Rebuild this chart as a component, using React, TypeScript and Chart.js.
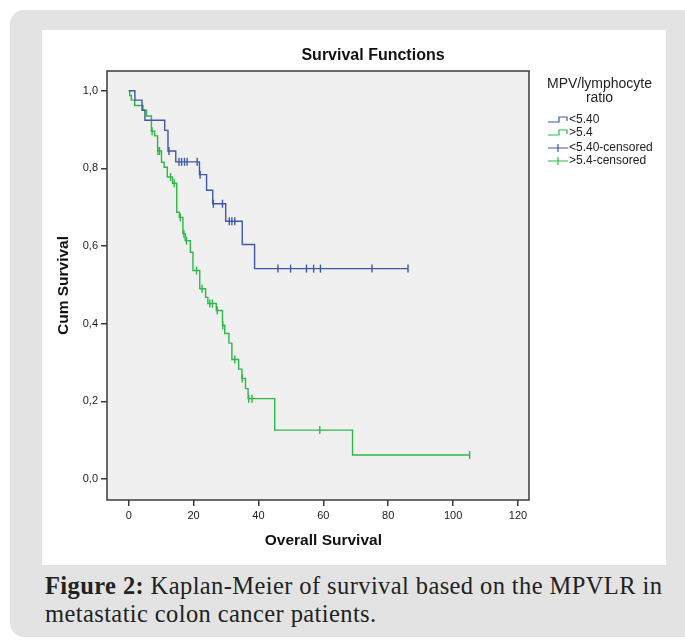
import React, { useEffect, useRef } from "react";
import { Chart, registerables } from "chart.js";

Chart.register(...registerables);

// ---- data ----
const xTickValues = [0, 20, 40, 60, 80, 100, 120];
const yTickValues = [0, 0.2, 0.4, 0.6, 0.8, 1.0];

const seriesLabels = ["<5.40", ">5.4", "<5.40-censored", ">5.4-censored"];
const legendTitleLines = ["MPV/lymphocyte", "ratio"];

// "<5.40" group: event times and survival level after each event
const lowTimes = [0, 1.9, 4.1, 5.0, 11.1, 12.1, 14.5, 21.8, 24.0, 25.9, 29.9, 35.0, 38.8];
const lowSurv = [1.0, 0.976, 0.95, 0.924, 0.898, 0.845, 0.817, 0.784, 0.744, 0.709, 0.664, 0.604, 0.542];
const lowCensored = [12.4, 15.5, 16.3, 17.2, 18.0, 21.1, 22.0, 26.1, 28.9, 31.0, 31.8, 32.7, 46.0, 49.9, 54.8, 57.0, 59.1, 75.0, 86.1];

// ">5.4" group
const highTimes = [0, 0.3, 0.8, 1.85, 4.4, 5.5, 7.0, 8.0, 8.9, 10.1, 10.9, 11.9, 13.5, 14.8, 15.6, 16.7, 17.4, 19.0, 19.8, 21.9, 23.7, 24.4, 27.0, 28.9, 29.6, 30.9, 31.8, 33.9, 34.9, 36.0, 36.8, 45.0, 69.0];
const highSurv = [1.0, 0.988, 0.976, 0.962, 0.95, 0.935, 0.896, 0.884, 0.845, 0.816, 0.803, 0.778, 0.762, 0.687, 0.674, 0.632, 0.614, 0.584, 0.537, 0.49, 0.468, 0.452, 0.434, 0.396, 0.375, 0.35, 0.308, 0.283, 0.259, 0.233, 0.207, 0.126, 0.062];
const highCensored = [7.2, 9.0, 9.5, 12.9, 14.0, 15.9, 17.0, 17.8, 20.9, 22.6, 25.0, 25.8, 27.3, 29.0, 32.7, 35.0, 37.0, 38.0, 58.9, 105.1];

const BLUE = "rgb(62,88,172)";
const GREEN = "rgb(46,184,72)";
const FONT = "'Liberation Sans', Arial, sans-serif";

function levelAt(times: number[], surv: number[], t: number) {
  let s = surv[0];
  for (let i = 0; i < times.length; i++) if (times[i] <= t) s = surv[i];
  return s;
}
function stepPoints(times: number[], surv: number[], cens: number[]) {
  const pts = times.map((t, i) => ({ x: t, y: surv[i] }));
  const end = Math.max(times[times.length - 1], ...cens);
  pts.push({ x: end, y: levelAt(times, surv, end) });
  return pts;
}
function censorPoints(times: number[], surv: number[], cens: number[]) {
  return cens.map((t) => ({ x: t, y: levelAt(times, surv, t) }));
}

const decorPlugin = {
  id: "decor",
  beforeDatasetsDraw(chart: any) {
    const { ctx, chartArea: a } = chart;
    ctx.save();
    ctx.fillStyle = "#f0f0f0";
    ctx.fillRect(a.left, a.top, a.right - a.left, a.bottom - a.top);
    ctx.restore();
  },
  afterDatasetsDraw(chart: any) {
    const { ctx, chartArea: a } = chart;
    ctx.save();
    ctx.strokeStyle = "#3a3a3a";
    ctx.lineWidth = 1.5;
    ctx.strokeRect(a.left, a.top, a.right - a.left, a.bottom - a.top);

    // title
    ctx.fillStyle = "#111";
    ctx.textAlign = "center";
    ctx.textBaseline = "middle";
    ctx.font = `bold 16px ${FONT}`;
    ctx.fillText("Survival Functions", chart.width / 2 + 19, a.top - 15);

    // x title
    const xs = chart.scales.x;
    ctx.font = `bold 15.5px ${FONT}`;
    ctx.fillText("Overall Survival", xs.getPixelForValue(60), a.bottom + 41);

    // y title
    ctx.save();
    ctx.translate(a.left - 43, (a.top + a.bottom) / 2);
    ctx.rotate(-Math.PI / 2);
    ctx.fillText("Cum Survival", 0, 0);
    ctx.restore();

    // legend
    const lx = a.right + 18;
    ctx.font = `14px ${FONT}`;
    ctx.textAlign = "left";
    ctx.fillStyle = "#222";
    ctx.fillText(legendTitleLines[0], lx, a.top + 13);
    const w = ctx.measureText(legendTitleLines[0]).width;
    ctx.textAlign = "center";
    ctx.fillText(legendTitleLines[1], lx + w / 2, a.top + 27);

    const rows = [a.top + 49, a.top + 62, a.top + 77, a.top + 90];
    const cols = [BLUE, GREEN, BLUE, GREEN];
    ctx.font = `12px ${FONT}`;
    ctx.textAlign = "left";
    rows.forEach((y, i) => {
      ctx.strokeStyle = cols[i];
      ctx.lineWidth = 1.2;
      ctx.beginPath();
      if (i < 2) {
        ctx.moveTo(lx + 1, y + 2);
        ctx.lineTo(lx + 12, y + 2);
        ctx.lineTo(lx + 12, y - 3);
        ctx.lineTo(lx + 20, y - 3);
        ctx.lineTo(lx + 20, y + 1);
      } else {
        ctx.moveTo(lx + 1, y);
        ctx.lineTo(lx + 21, y);
        ctx.moveTo(lx + 11, y - 4);
        ctx.lineTo(lx + 11, y + 4);
      }
      ctx.stroke();
      ctx.fillStyle = "#222";
      ctx.fillText(seriesLabels[i], lx + 22, y);
    });
    ctx.restore();
  },
};

export default function App() {
  const ref = useRef<HTMLCanvasElement>(null);
  useEffect(() => {
    const canvas = ref.current!;
    const chart = new Chart(canvas, {
      type: "line",
      data: {
        datasets: [
          {
            label: seriesLabels[0],
            data: stepPoints(lowTimes, lowSurv, lowCensored),
            stepped: "before",
            borderColor: BLUE,
            borderWidth: 1.4,
            pointRadius: 0,
            fill: false,
          },
          {
            label: seriesLabels[1],
            data: stepPoints(highTimes, highSurv, highCensored),
            stepped: "before",
            borderColor: GREEN,
            borderWidth: 1.4,
            pointRadius: 0,
            fill: false,
          },
          {
            label: seriesLabels[2],
            data: censorPoints(lowTimes, lowSurv, lowCensored),
            showLine: false,
            pointStyle: "line",
            rotation: 90,
            pointRadius: 4,
            borderColor: BLUE,
            borderWidth: 1.4,
          },
          {
            label: seriesLabels[3],
            data: censorPoints(highTimes, highSurv, highCensored),
            showLine: false,
            pointStyle: "line",
            rotation: 90,
            pointRadius: 4,
            borderColor: GREEN,
            borderWidth: 1.4,
          },
        ] as any,
      },
      options: {
        responsive: false,
        animation: false,
        devicePixelRatio: 1,
        layout: { padding: { left: 0, top: 41, right: 137, bottom: 0 } },
        plugins: {
          legend: { display: false },
          title: { display: false },
          tooltip: { enabled: false },
        },
        scales: {
          x: {
            type: "linear",
            min: -6.7,
            max: 123.4,
            afterBuildTicks: (s: any) => {
              s.ticks = xTickValues.map((v) => ({ value: v }));
            },
            afterFit: (s: any) => {
              s.height = 65;
            },
            ticks: {
              font: { family: FONT, size: 11 },
              color: "#222",
              padding: 3,
              maxRotation: 0,
              callback: (v: any) => String(v),
            },
            grid: {
              drawOnChartArea: false,
              drawTicks: true,
              tickLength: 6,
              color: "#3a3a3a",
              lineWidth: 1.5,
            },
            border: { display: false },
          },
          y: {
            type: "linear",
            min: -0.054,
            max: 1.051,
            afterBuildTicks: (s: any) => {
              s.ticks = yTickValues.map((v) => ({ value: v }));
            },
            afterFit: (s: any) => {
              s.width = 65;
            },
            ticks: {
              font: { family: FONT, size: 11 },
              color: "#222",
              padding: 3,
              callback: (v: any) => Number(v).toFixed(1).replace(".", ","),
            },
            grid: {
              drawOnChartArea: false,
              drawTicks: true,
              tickLength: 6,
              color: "#3a3a3a",
              lineWidth: 1.5,
            },
            border: { display: false },
          },
        },
      },
      plugins: [decorPlugin],
    });
    return () => chart.destroy();
  }, []);

  return (
    <div style={{ position: "absolute", left: 0, top: 0, width: 685, height: 641, background: "#fff", overflow: "hidden" }}>
      <div style={{ position: "absolute", left: 10, top: 10, width: 700, height: 627, background: "#e3e3e3", borderRadius: 14 }} />
      <div style={{ position: "absolute", left: 42, top: 30, width: 624, height: 535, background: "#fff" }}>
        <canvas ref={ref} width={624} height={535} style={{ display: "block" }} />
      </div>
      <div
        style={{
          position: "absolute",
          left: 45,
          top: 572,
          fontFamily: "'Liberation Serif', 'DejaVu Serif', serif",
          fontSize: 24.5,
          letterSpacing: "0.4px",
          lineHeight: "28px",
          color: "#222",
          whiteSpace: "nowrap",
        }}
      >
        <b>Figure 2:</b> Kaplan-Meier of survival based on the MPVLR in
        <br />
        metastatic colon cancer patients.
      </div>
    </div>
  );
}
